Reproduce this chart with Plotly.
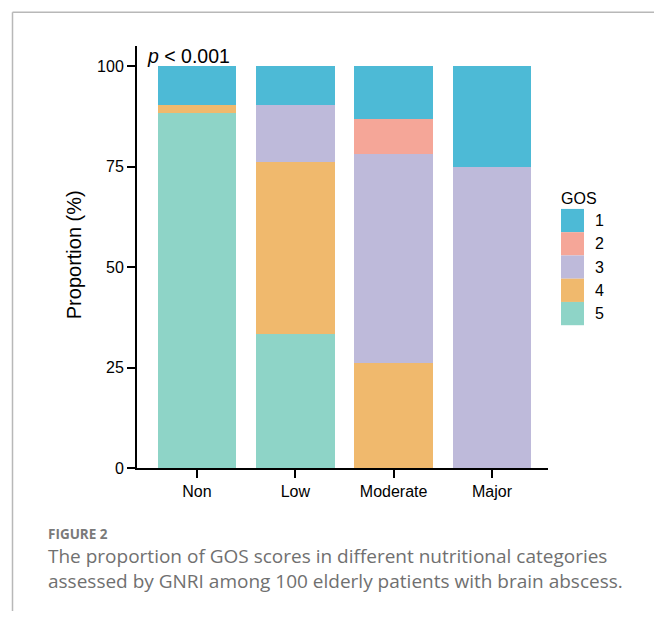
import plotly.graph_objects as go

categories = ["Non", "Low", "Moderate", "Major"]
gos_levels = ["1", "2", "3", "4", "5"]
# proportions (%) per GOS score, per category
gos5 = [88.46, 33.33, 0.0, 0.0]
gos4 = [1.92, 42.86, 26.09, 0.0]
gos3 = [0.0, 14.29, 52.17, 75.0]
gos2 = [0.0, 0.0, 8.70, 0.0]
gos1 = [9.62, 9.52, 13.04, 25.0]
colors = {"1": "#4DBAD6", "2": "#F5A698", "3": "#BEBADA", "4": "#F0B96D", "5": "#8ED4C7"}
y_ticks = [0, 25, 50, 75, 100]
p_text = "<i>p</i> < 0.001"
caption_label = "FIGURE 2"
caption_lines = ["The proportion of GOS scores in different nutritional categories",
                 "assessed by GNRI among 100 elderly patients with brain abscess."]

W, H = 654, 620
FONT = "Liberation Sans, Arial, sans-serif"

fig = go.Figure()
series = {"5": gos5, "4": gos4, "3": gos3, "2": gos2, "1": gos1}
for lvl in ["5", "4", "3", "2", "1"]:
    fig.add_trace(go.Bar(
        x=categories, y=series[lvl], name=lvl,
        marker=dict(color=colors[lvl], line=dict(width=0)),
        width=0.8, showlegend=False,
    ))

x0, x1 = 137, 548
ytop, ybot = 47, 475
fig.update_layout(
    width=W, height=H,
    margin=dict(l=0, r=0, t=0, b=0),
    paper_bgcolor="white", plot_bgcolor="white",
    barmode="stack", bargap=0.2,
    font=dict(family=FONT, color="#000", size=16),
    xaxis=dict(domain=[x0 / W, x1 / W], range=[-0.61, 3.57],
               showline=True, linecolor="#000", linewidth=2,
               ticks="outside", ticklen=8, tickwidth=2, tickcolor="#000",
               showgrid=False, zeroline=False, tickfont=dict(size=16)),
    yaxis=dict(domain=[1 - ybot / H, 1 - ytop / H], range=[0, 105],
               tickvals=y_ticks, showline=True, linecolor="#000", linewidth=2,
               ticks="outside", ticklen=8, tickwidth=2, tickcolor="#000",
               showgrid=False, zeroline=False, tickfont=dict(size=16)),
)

# y-axis title
fig.add_annotation(xref="paper", yref="paper", x=74 / W, y=1 - 259 / H,
                   text="Proportion (%)", textangle=-90, showarrow=False,
                   xanchor="center", yanchor="middle",
                   font=dict(size=20, family=FONT, color="#000"))

# p-value annotation
fig.add_annotation(xref="paper", yref="paper", x=145 / W, y=1 - 57 / H,
                   text=p_text, showarrow=False, xanchor="left", yanchor="middle",
                   font=dict(size=19.5, family=FONT, color="#000"))

# manual legend
fig.add_annotation(xref="paper", yref="paper", x=559 / W, y=1 - 201 / H,
                   text="GOS", showarrow=False, xanchor="left", yanchor="middle",
                   font=dict(size=16, family=FONT, color="#000"))
sw_top, sw_h = 212, 23.6
for i, lvl in enumerate(gos_levels):
    t = sw_top + i * sw_h
    fig.add_shape(type="rect", xref="paper", yref="paper",
                  x0=561 / W, x1=584 / W, y0=1 - (t + sw_h) / H, y1=1 - t / H,
                  fillcolor=colors[lvl], line=dict(width=0))
    fig.add_annotation(xref="paper", yref="paper", x=593 / W, y=1 - (t + sw_h / 2) / H,
                       text=lvl, showarrow=False, xanchor="left", yanchor="middle",
                       font=dict(size=16, family=FONT, color="#000"))

# page frame lines
fig.add_shape(type="line", xref="paper", yref="paper", x0=12.5 / W, x1=1, y0=1 - 12.5 / H, y1=1 - 12.5 / H,
              line=dict(color="#b8b8b8", width=1.5))
fig.add_shape(type="line", xref="paper", yref="paper", x0=12.5 / W, x1=12.5 / W, y0=0, y1=1 - 12.5 / H,
              line=dict(color="#b8b8b8", width=1.5))

# caption
CAP = "Open Sans, Noto Sans, sans-serif"
fig.add_annotation(xref="paper", yref="paper", x=46 / W, y=1 - 542 / H,
                   text="<b>" + caption_label + "</b>", showarrow=False, xanchor="left", yanchor="middle",
                   font=dict(size=13.5, family=CAP, color="#7a7a7a"))
fig.add_annotation(xref="paper", yref="paper", x=46 / W, y=1 - 577 / H,
                   text="<br>".join(caption_lines), align="left",
                   showarrow=False, xanchor="left", yanchor="middle",
                   font=dict(size=19, family=CAP, color="#707070"))

fig.write_html("out.html", config={"displayModeBar": False},
               post_script="document.body.style.margin='0';")
